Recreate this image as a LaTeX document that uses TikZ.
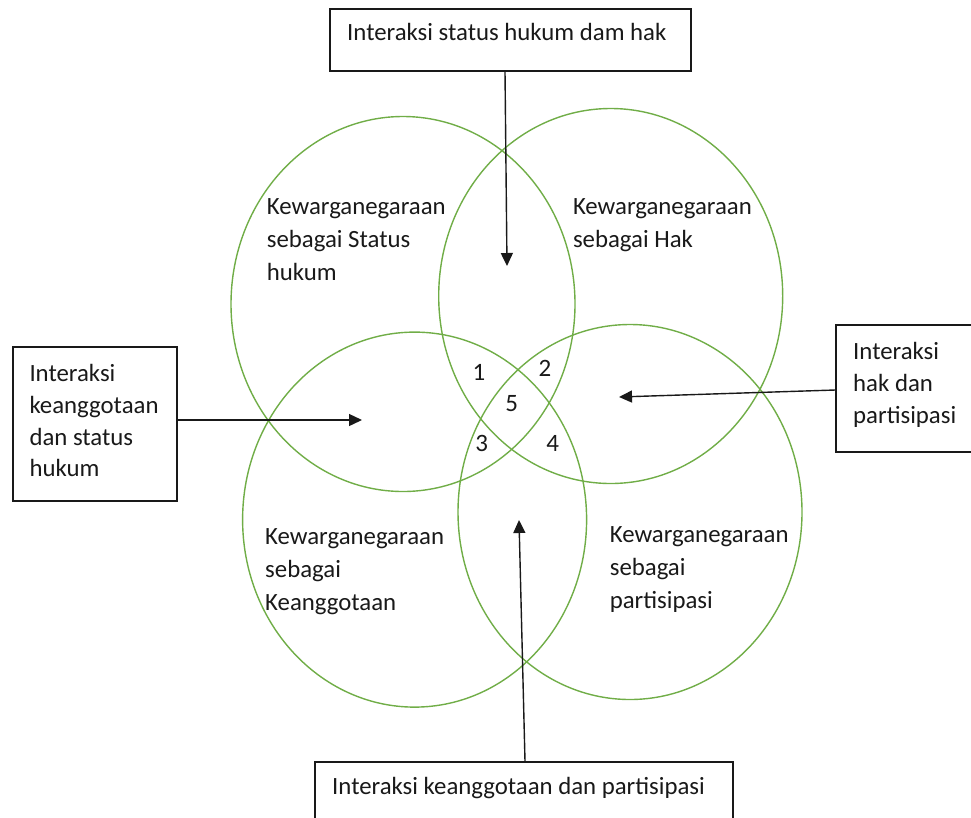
\documentclass[tikz,border=0pt]{standalone}
\usepackage{fontspec}
\setmainfont{Carlito}
\usetikzlibrary{shapes.geometric,arrows.meta}
\definecolor{vgreen}{RGB}{112,173,71}
\definecolor{ink}{RGB}{25,25,25}
\begin{document}
\begin{tikzpicture}[x=1pt,y=-1pt,
  venn/.style={ellipse, draw=vgreen, line width=1.4pt, minimum width=344pt, minimum height=375pt, inner sep=0pt},
  box/.style={draw=ink, line width=1.4pt, rectangle, inner sep=0pt},
  lbl/.style={anchor=base west, inner sep=0pt, align=left, text=ink, font=\fontsize{24.8}{32.8}\selectfont},
  num/.style={anchor=base, inner sep=0pt, text=ink, font=\fontsize{25}{28}\selectfont},
  arr/.style={-{Triangle[length=13pt,width=12pt]}, line width=1.4pt, draw=ink}]
\useasboundingbox (0,0) rectangle (971,817);
% circles
\node[venn] (status) at (403,304) {};
\node[venn] (hak) at (610.7,296) {};
\node[venn] (anggota) at (414.6,519.6) {};
\node[venn] (partisipasi) at (630,512) {};
% circle labels (anchored at the baseline of the last line)
\node[lbl] (lstatus) at (266.7,280.5) {Kewarganegaraan\\sebagai Status\\hukum};
\node[lbl] (lhak) at (572.8,247) {Kewarganegaraan\\sebagai Hak};
\node[lbl] (langgota) at (265,610) {Kewarganegaraan\\sebagai\\Keanggotaan};
\node[lbl] (lpart) at (609.6,608) {Kewarganegaraan\\sebagai\\partisipasi};
% numbers
\node[num] (n1) at (479,380) {1};
\node[num] (n2) at (545,376.7) {2};
\node[num] (n5) at (511.7,411.7) {5};
\node[num] (n3) at (481.7,451.7) {3};
\node[num] (n4) at (552.7,451.7) {4};
% boxes
\node[box, minimum width=361pt, minimum height=62pt] (topbox) at (510.5,40) {};
\node[box, minimum width=164pt, minimum height=154pt] (leftbox) at (95,424) {};
\node[box, minimum width=138pt, minimum height=127pt] (rightbox) at (905,388.5) {};
\node[box, minimum width=418pt, minimum height=60pt] (botbox) at (524,792) {};
% box texts
\node[lbl] (ttop) at (347,40) {Interaksi status hukum dam hak};
\node[lbl, font=\fontsize{24.8}{31.7}\selectfont] (tleft) at (29.3,476.7) {Interaksi\\keanggotaan\\dan status\\hukum};
\node[lbl, font=\fontsize{24.8}{32}\selectfont] (tright) at (853,423) {Interaksi\\hak dan\\partisipasi};
\node[lbl] (tbot) at (332,794) {Interaksi keanggotaan dan partisipasi};
% arrow tips
\coordinate (tipT) at (507,266);
\coordinate (tipL) at (362,420);
\coordinate (tipR) at (619,397);
\coordinate (tipB) at (519,520);
% arrows
\draw[arr] ([xshift=-5.5pt]topbox.south) -- (tipT);
\draw[arr] ([yshift=4pt]leftbox.east) -- (tipL);
\draw[arr] ([yshift=-1.5pt]rightbox.west) -- (tipR);
\draw[arr] ([xshift=1pt]botbox.north) -- (tipB);
\end{tikzpicture}
\end{document}
